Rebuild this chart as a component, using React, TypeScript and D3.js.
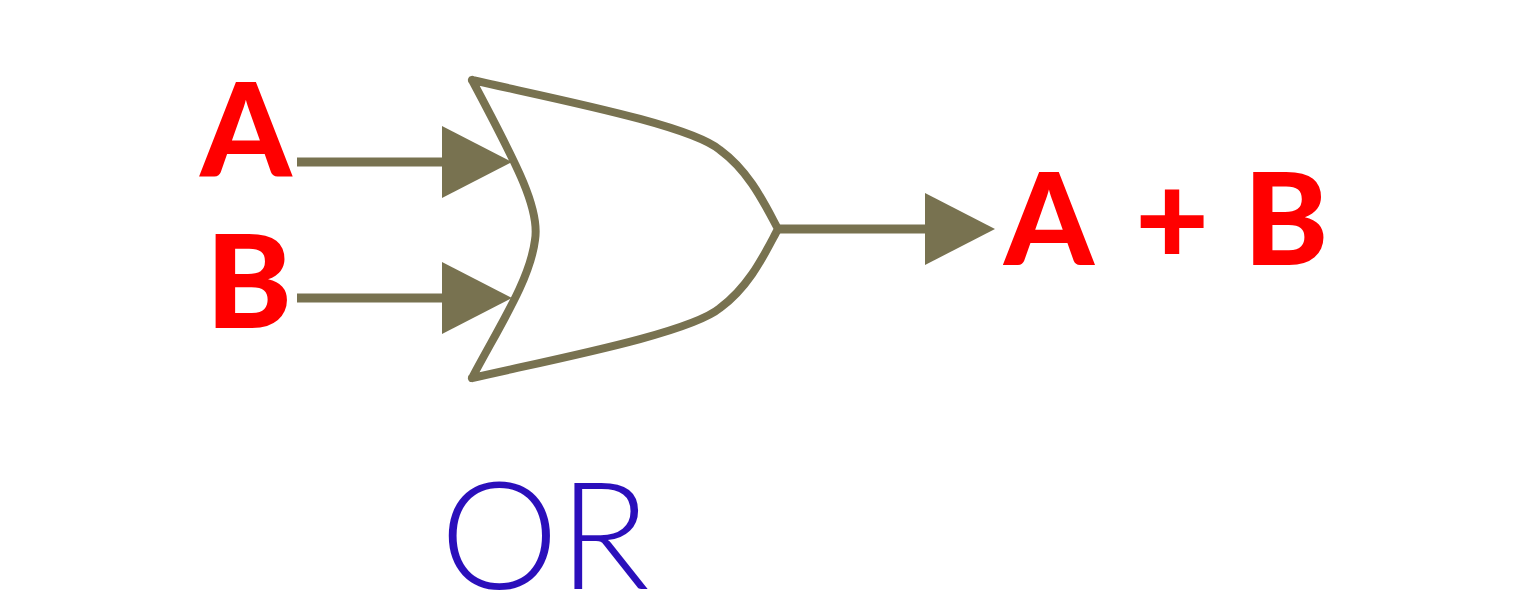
import React from 'react';
import * as d3 from 'd3';

const inputs = ['A', 'B'];
const outputLabel = ['A', '+', 'B'];
const gateName = 'OR';

const W = 1525;
const H = 612;
const ink = '#787250';
const red = '#ff0000';
const blue = '#2b0fbb';

// vertical positions of the two input wires
const yIn = d3.scalePoint<string>().domain(inputs).range([162, 298]);

const App: React.FC = () => {
  const left = 472, top = 80, bottom = 378, tipX = 778, midY = 229;

  const gate = d3.path();
  gate.moveTo(left, top);
  gate.bezierCurveTo(560, 100, 690, 125, 720, 150);
  gate.bezierCurveTo(750, 172, 765, 205, tipX, midY);
  gate.bezierCurveTo(765, 253, 750, 286, 720, 308);
  gate.bezierCurveTo(690, 333, 560, 358, left, bottom);
  gate.moveTo(left, top);
  gate.bezierCurveTo(520, 170, 540, 210, 535, 240);
  gate.bezierCurveTo(530, 280, 500, 325, left, bottom);

  const arrow = (x0: number, x1: number, y: number, key: string) => (
    <g key={key}>
      <line x1={x0} x2={x1 - 60} y1={y} y2={y} stroke={ink} strokeWidth={9} />
      <path d={`M${x1 - 70},${y - 36}L${x1},${y}L${x1 - 70},${y + 36}Z`} fill={ink} />
    </g>
  );

  return (
    <svg width={W} height={H} style={{ position: 'absolute', left: 0, top: 0, background: '#fff' }}>
      <path d={gate.toString()} fill="none" stroke={ink} strokeWidth={8} strokeLinecap="round" />
      {inputs.map(k => arrow(297, 512, yIn(k)!, k))}
      {arrow(tipX, 995, midY, 'out')}
      {inputs.map(k => (
        <text key={k} x={k === 'A' ? 246 : 249} y={yIn(k)! + (k === 'A' ? 14 : 30)} textAnchor="middle"
          fontFamily="Lato, sans-serif" fontWeight={900} fontSize={130} fill={red}>{k}</text>
      ))}
      <text x={1160} y={265} textAnchor="middle" fontFamily="Lato, sans-serif" fontWeight={900}
        fontSize={128} fill={red}>
        {outputLabel.map((s, i) => (
          <tspan key={i} x={[1049, 1172, 1286][i]} dy={0}>{s}</tspan>
        ))}
      </text>
      <text x={545} y={589} textAnchor="middle" fontFamily="Lato, sans-serif" fontWeight={300}
        fontSize={150} fill={blue}>{gateName}</text>
    </svg>
  );
};

export default App;
